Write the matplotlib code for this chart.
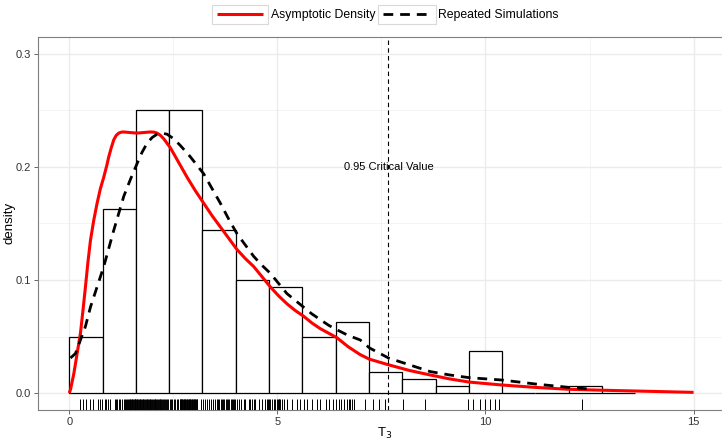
import matplotlib
matplotlib.use("Agg")
import matplotlib.pyplot as plt
from matplotlib.lines import Line2D
from matplotlib.patches import Rectangle
import matplotlib.transforms as mtransforms

plt.rcParams['font.family'] = ['Liberation Sans', 'DejaVu Sans']

# ---------------- data ----------------
bin_edges = [0.0, 0.8, 1.6, 2.4, 3.2, 4.0, 4.8, 5.6, 6.4, 7.2, 8.0, 8.8,
             9.6, 10.4, 11.2, 12.0, 12.8, 13.6]
bin_density = [0.050, 0.1625, 0.25, 0.25, 0.144, 0.100, 0.094, 0.050,
               0.0625, 0.019, 0.0125, 0.00625, 0.0375, 0.0, 0.0, 0.00625, 0.0]

asym_x = [0.0, 0.03, 0.11, 0.19, 0.27, 0.33, 0.39, 0.45, 0.51, 0.59, 0.67,
          0.75, 0.83, 0.90, 0.95, 1.01, 1.07, 1.13, 1.19, 1.25, 1.31, 1.45,
          1.63, 1.80, 1.95, 2.04, 2.11, 2.19, 2.27, 2.35, 2.43, 2.63, 2.83,
          3.03, 3.23, 3.43, 3.63, 3.83, 4.03, 4.23, 4.43, 4.63, 4.83, 5.03,
          5.23, 5.43, 5.63, 5.83, 6.03, 6.23, 6.43, 6.70, 6.99, 7.21, 7.67,
          8.17, 8.67, 9.14, 9.61, 10.4, 11.2, 12.01, 12.8, 13.61, 15.0]
asym_y = [0.0, 0.003, 0.017, 0.035, 0.053, 0.073, 0.094, 0.116, 0.135, 0.153,
          0.168, 0.181, 0.191, 0.201, 0.209, 0.217, 0.224, 0.228, 0.230, 0.2308,
          0.231, 0.2305, 0.230, 0.2305, 0.231, 0.2308, 0.230, 0.228, 0.225,
          0.221, 0.217, 0.204, 0.191, 0.179, 0.168, 0.157, 0.147, 0.137, 0.127,
          0.119, 0.112, 0.103, 0.094, 0.086, 0.079, 0.073, 0.068, 0.062, 0.057,
          0.053, 0.049, 0.041, 0.034, 0.030, 0.025, 0.020, 0.016, 0.0125,
          0.0097, 0.0071, 0.0050, 0.0033, 0.0025, 0.0018, 0.0006]

sim_x = [0.03, 0.15, 0.27, 0.39, 0.51, 0.67, 0.83, 0.95, 1.07, 1.19, 1.31,
         1.47, 1.63, 1.75, 1.87, 1.99, 2.11, 2.23, 2.35, 2.51, 2.67, 2.91,
         3.23, 3.43, 3.63, 3.83, 4.03, 4.23, 4.43, 4.63, 4.83, 5.03, 5.23,
         5.43, 5.63, 5.83, 6.03, 6.23, 6.43, 6.70, 6.99, 7.21, 7.67, 8.17,
         8.67, 9.14, 9.61, 10.4, 11.2, 12.01, 12.6]
sim_y = [0.031, 0.035, 0.047, 0.059, 0.076, 0.094, 0.112, 0.128, 0.144, 0.159,
         0.174, 0.189, 0.203, 0.213, 0.221, 0.226, 0.229, 0.230, 0.229, 0.225,
         0.219, 0.209, 0.194, 0.181, 0.168, 0.154, 0.141, 0.131, 0.121, 0.113,
         0.106, 0.097, 0.088, 0.082, 0.076, 0.070, 0.065, 0.060, 0.056, 0.051,
         0.047, 0.040, 0.031, 0.025, 0.019, 0.016, 0.0136, 0.0115, 0.008,
         0.005, 0.0033]

rug_values = [
    0.25, 0.34, 0.40, 0.51, 0.58, 0.69, 0.73, 0.78,
    0.85, 0.88, 0.93, 0.97, 1.09, 1.12, 1.14, 1.20, 1.23, 1.28, 1.31, 1.33,
    1.36, 1.39, 1.41, 1.43, 1.45, 1.47, 1.49, 1.50, 1.52, 1.54, 1.55, 1.57,
    1.58, 1.59,
    1.61, 1.63, 1.64, 1.66, 1.68, 1.70, 1.71, 1.73, 1.75, 1.77, 1.78, 1.80,
    1.82, 1.84, 1.86, 1.88, 1.90, 1.92, 1.94, 1.95, 1.97, 1.99, 2.01, 2.03,
    2.05, 2.07, 2.09, 2.11, 2.13, 2.15, 2.17, 2.19, 2.21, 2.23, 2.25, 2.27,
    2.30, 2.33, 2.35, 2.38,
    2.41, 2.44, 2.47, 2.51, 2.55, 2.59, 2.62, 2.65, 2.66, 2.68, 2.69, 2.70,
    2.72, 2.73, 2.75, 2.76, 2.78, 2.79, 2.81, 2.82, 2.84, 2.85, 2.87, 2.88,
    2.90, 2.91, 2.93, 2.94, 2.96, 2.97, 2.99, 3.00, 3.02, 3.03, 3.05, 3.06,
    3.07, 3.16,
    3.21, 3.27, 3.31, 3.36, 3.40, 3.45, 3.50, 3.55, 3.58, 3.61, 3.64, 3.67,
    3.70, 3.73, 3.76, 3.79, 3.82, 3.85, 3.88, 3.91, 3.94, 3.97, 3.99,
    4.03, 4.07, 4.12, 4.19, 4.23, 4.31, 4.35, 4.40, 4.43, 4.47, 4.55, 4.62,
    4.71, 4.75, 4.77, 4.79,
    4.83, 4.87, 4.91, 4.95, 4.99, 5.01, 5.03, 5.05, 5.07, 5.10, 5.15, 5.23,
    5.35, 5.47, 5.55,
    5.63, 5.71, 5.83, 5.95, 6.03, 6.18, 6.25, 6.33,
    6.42, 6.47, 6.53, 6.59, 6.67, 6.71, 6.75, 6.79, 6.83, 7.11,
    7.31, 7.45, 7.58,
    8.03, 8.55,
    9.58,
    9.71, 9.87, 9.99, 10.11, 10.23, 10.33,
    12.33,
]

critical_value = 7.67
critical_label = "0.95 Critical Value"
x_ticks = [0, 5, 10, 15]
y_ticks = [0.0, 0.1, 0.2, 0.3]
y_tick_labels = ["0.0", "0.1", "0.2", "0.3"]
series_names = ["Asymptotic Density", "Repeated Simulations"]

# ---------------- figure ----------------
W, H = 722, 440
fig = plt.figure(figsize=(W / 100, H / 100), dpi=100)


def fx(px):
    return px / W


def fy(py):
    return 1 - py / H


ax = fig.add_axes([38 / W, 30 / H, (724.8 - 38) / W, 373 / H])
ax.set_xlim(-0.75, 15.75)
ax.set_ylim(-0.015, 0.315)

ax.set_facecolor('white')
for s in ax.spines.values():
    s.set_color('#7f7f7f')
    s.set_linewidth(0.8)

# grid
for v in [2.5, 7.5, 12.5]:
    ax.axvline(v, color='#f2f2f2', lw=0.6, zorder=0)
for v in [0.05, 0.15, 0.25]:
    ax.axhline(v, color='#f2f2f2', lw=0.6, zorder=0)
for v in x_ticks:
    ax.axvline(v, color='#ebebeb', lw=1.0, zorder=0)
for v in y_ticks:
    ax.axhline(v, color='#ebebeb', lw=1.0, zorder=0)

# histogram
widths = [bin_edges[i + 1] - bin_edges[i] for i in range(len(bin_density))]
ax.bar(bin_edges[:-1], bin_density, width=widths, align='edge',
       facecolor='white', edgecolor='black', linewidth=0.9, zorder=2)

# rug
trans = mtransforms.blended_transform_factory(ax.transData, ax.transAxes)
ax.vlines(rug_values, 0, 0.03, transform=trans, color='black', lw=0.7, zorder=3)

# curves
ax.plot(asym_x, asym_y, color='#ff0000', lw=2.2, zorder=4,
        solid_capstyle='butt', solid_joinstyle='round')
ax.plot(sim_x, sim_y, color='black', lw=2.0, zorder=5,
        linestyle=(0, (3.5, 2.5)), dash_capstyle='butt')

# critical value
ax.axvline(critical_value, color='black', lw=0.8, linestyle=(0, (4, 3)), zorder=6)
ax.text(critical_value, 0.2, critical_label, ha='center', va='center',
        fontsize=8, color='black', zorder=7)

ax.set_xticks(x_ticks)
ax.set_xticklabels([str(t) for t in x_ticks])
ax.set_yticks(y_ticks)
ax.set_yticklabels(y_tick_labels)
ax.tick_params(axis='both', labelsize=8, colors='#4d4d4d', length=3, width=0.6,
               labelcolor='#333333', pad=2)

fig.text(fx(385), fy(433), r"T$_3$", fontsize=9.5, ha='center', va='center')
fig.text(fx(10), fy(223), "density", fontsize=9.5, ha='center', va='center',
         rotation=90)

# legend (drawn as ggplot-style keys)
key_boxes = [(212, 268), (378, 436)]
text_x = [271, 438]
styles = [dict(color='#ff0000', lw=2.2, solid_capstyle='butt'),
          dict(color='black', lw=2.0, linestyle=(0, (3.5, 2.5)), dash_capstyle='butt')]
for (x0, x1), tx, st, name in zip(key_boxes, text_x, styles, series_names):
    fig.patches.append(Rectangle((fx(x0), fy(24)), fx(x1) - fx(x0), fy(5) - fy(24),
                                 transform=fig.transFigure, facecolor='white',
                                 edgecolor='#d9d9d9', lw=0.8))
    fig.lines.append(Line2D([fx(x0 + 5), fx(x1 - 5)], [fy(14.5), fy(14.5)],
                            transform=fig.transFigure, **st))
    fig.text(fx(tx), fy(15), name, fontsize=8.8, ha='left', va='center')

fig.savefig("out.png", dpi=100)
